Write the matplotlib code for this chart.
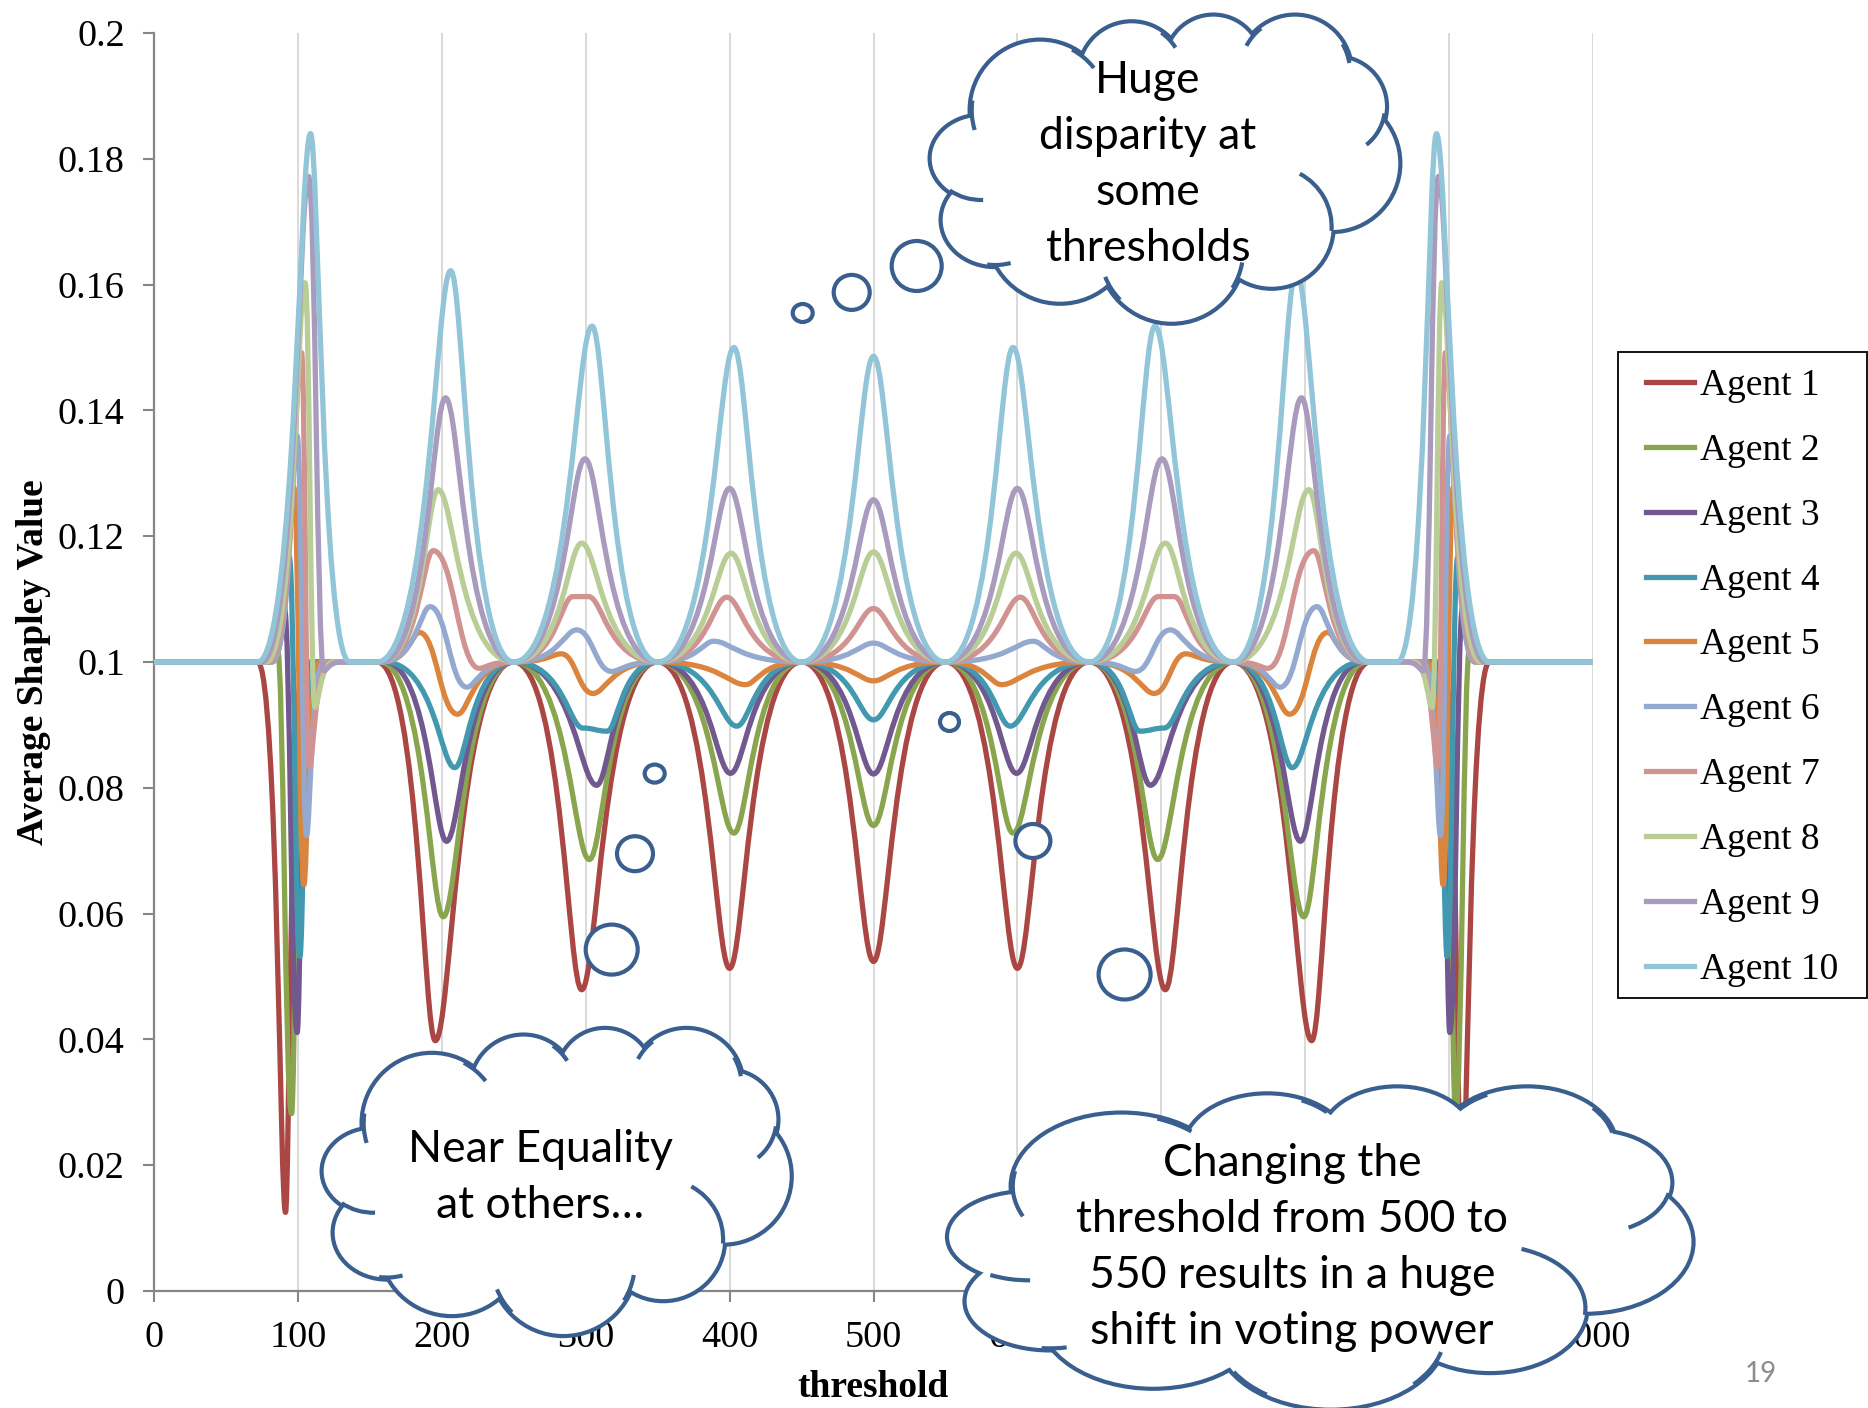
import matplotlib
matplotlib.use("Agg")
import matplotlib.pyplot as plt
from matplotlib.path import Path
from matplotlib.patches import PathPatch, Ellipse, Arc, Rectangle
from matplotlib.lines import Line2D
from matplotlib.ticker import FuncFormatter

plt.rcParams['font.family'] = ['Liberation Serif', 'DejaVu Serif']

BASE = 0.1

# key points (threshold, average Shapley value)
agent1_x = [0, 72, 91.4, 104, 155, 195.5, 250, 297.2, 350, 400, 450, 500, 550, 600, 650, 702.8, 750, 804.5, 845, 896, 908.6, 928, 1000]
agent1_y = [0.1, 0.1, 0.0125, 0.1, 0.1, 0.0398, 0.1, 0.0479, 0.1, 0.0513, 0.1, 0.0524, 0.1, 0.0513, 0.1, 0.0479, 0.1, 0.0398, 0.1, 0.1, 0.0125, 0.1, 0.1]
agent2_x = [0, 75, 85.6, 95.6, 107, 157, 201, 250, 302.5, 350, 403, 450, 500, 550, 597, 650, 697.5, 750, 799, 843, 893, 904.4, 914.4, 925, 1000]
agent2_y = [0.1, 0.1, 0.1025, 0.0282, 0.1, 0.1, 0.0595, 0.1, 0.0686, 0.1, 0.0728, 0.1, 0.0740, 0.1, 0.0728, 0.1, 0.0686, 0.1, 0.0595, 0.1, 0.1, 0.0282, 0.1025, 0.1, 0.1]
agent3_x = [0, 78, 90.5, 99.5, 110, 160, 203.3, 250, 307.6, 350, 400.6, 450, 500, 550, 599.4, 650, 692.4, 750, 796.7, 840, 890, 900.5, 909.5, 922, 1000]
agent3_y = [0.1, 0.1, 0.1087, 0.0411, 0.1, 0.1, 0.0715, 0.1, 0.0804, 0.1, 0.0823, 0.1, 0.0822, 0.1, 0.0823, 0.1, 0.0804, 0.1, 0.0715, 0.1, 0.1, 0.0411, 0.1087, 0.1, 0.1]
agent4_x = [0, 80, 94, 101.4, 112, 160, 209, 250, 298, 315, 350, 405, 450, 500, 550, 595, 650, 685, 702, 750, 791, 840, 888, 898.6, 906, 920, 1000]
agent4_y = [0.1, 0.1, 0.1167, 0.0532, 0.1, 0.1, 0.0832, 0.1, 0.0895, 0.0890, 0.1, 0.0898, 0.1, 0.0908, 0.1, 0.0898, 0.1, 0.0890, 0.0895, 0.1, 0.0832, 0.1, 0.1, 0.0532, 0.1167, 0.1, 0.1]
agent5_x = [0, 82, 97.2, 104.2, 115, 158, 184.4, 210.9, 250, 283, 305, 350, 411, 450, 500, 550, 589, 650, 695, 717, 750, 789.1, 815.6, 842, 885, 895.8, 902.8, 918, 1000]
agent5_y = [0.1, 0.1, 0.1277, 0.0646, 0.1, 0.1, 0.1047, 0.0917, 0.1, 0.1013, 0.0950, 0.1, 0.0964, 0.1, 0.0970, 0.1, 0.0964, 0.1, 0.0950, 0.1013, 0.1, 0.0917, 0.1047, 0.1, 0.1, 0.0646, 0.1277, 0.1, 0.1]
agent6_x = [0, 82, 99.5, 106, 118, 158, 191.8, 217.4, 250, 293.7, 318, 350, 389, 450, 500, 550, 611, 650, 682, 706.3, 750, 782.6, 808.2, 842, 882, 894, 900.5, 918, 1000]
agent6_y = [0.1, 0.1, 0.1359, 0.0724, 0.1, 0.1, 0.1088, 0.0960, 0.1, 0.1051, 0.0985, 0.1, 0.1033, 0.1, 0.1030, 0.1, 0.1033, 0.1, 0.0985, 0.1051, 0.1, 0.0960, 0.1088, 0.1, 0.1, 0.0724, 0.1359, 0.1, 0.1]
agent7_x = [0, 80, 102.5, 107.9, 122, 158, 194, 226, 250, 291, 302, 350, 398, 450, 500, 550, 602, 650, 698, 709, 750, 774, 806, 842, 878, 892.1, 897.5, 920, 1000]
agent7_y = [0.1, 0.1, 0.1492, 0.0833, 0.1, 0.1, 0.1177, 0.0990, 0.1, 0.1104, 0.1104, 0.1, 0.1103, 0.1, 0.1085, 0.1, 0.1103, 0.1, 0.1104, 0.1104, 0.1, 0.0990, 0.1177, 0.1, 0.1, 0.0833, 0.1492, 0.1, 0.1]
agent8_x = [0, 78, 105, 111.8, 125, 158, 197.5, 250, 297.2, 350, 401, 450, 500, 550, 599, 650, 702.8, 750, 802.5, 842, 875, 888.2, 895, 922, 1000]
agent8_y = [0.1, 0.1, 0.1603, 0.0928, 0.1, 0.1, 0.1274, 0.1, 0.1189, 0.1, 0.1173, 0.1, 0.1175, 0.1, 0.1173, 0.1, 0.1189, 0.1, 0.1274, 0.1, 0.1, 0.0928, 0.1603, 0.1, 0.1]
agent9_x = [0, 75, 107.4, 118, 130, 158, 202.6, 250, 299.5, 350, 400, 450, 500, 550, 600, 650, 700.5, 750, 797.4, 842, 870, 882, 892.6, 925, 1000]
agent9_y = [0.1, 0.1, 0.1772, 0.0986, 0.1, 0.1, 0.1420, 0.1, 0.1323, 0.1, 0.1276, 0.1, 0.1258, 0.1, 0.1276, 0.1, 0.1323, 0.1, 0.1420, 0.1, 0.1, 0.0986, 0.1772, 0.1, 0.1]
agent10_x = [0, 72, 108.8, 136, 155, 206.2, 250, 304.4, 350, 403, 450, 500, 550, 597, 650, 695.6, 750, 793.8, 845, 864, 891.2, 928, 1000]
agent10_y = [0.1, 0.1, 0.184, 0.1, 0.1, 0.1622, 0.1, 0.1534, 0.1, 0.150, 0.1, 0.1486, 0.1, 0.150, 0.1, 0.1534, 0.1, 0.1622, 0.1, 0.1, 0.184, 0.1, 0.1]

agent_x = [agent1_x, agent2_x, agent3_x, agent4_x, agent5_x, agent6_x, agent7_x, agent8_x, agent9_x, agent10_x]
agent_y = [agent1_y, agent2_y, agent3_y, agent4_y, agent5_y, agent6_y, agent7_y, agent8_y, agent9_y, agent10_y]
agent_names = ["Agent 1", "Agent 2", "Agent 3", "Agent 4", "Agent 5",
               "Agent 6", "Agent 7", "Agent 8", "Agent 9", "Agent 10"]
agent_colors = ['#AA4643', '#89A54E', '#71588F', '#4198AF', '#DB843D',
                '#93A9CF', '#D19392', '#B9CD96', '#A99BBD', '#92C5D8']

x_ticks = [0, 100, 200, 300, 400, 500, 600, 700, 800, 900, 1000]
y_ticks = [0, 0.02, 0.04, 0.06, 0.08, 0.1, 0.12, 0.14, 0.16, 0.18, 0.2]

# callout texts
cloud_texts = ["Huge\ndisparity at\nsome\nthresholds",
               "Near Equality\nat others…",
               "Changing the\nthreshold from 500 to\n550 results in a huge\nshift in voting power"]

EDGE = '#3A5F8E'
LW = 3.0


def smooth_path(xs, ys):
    # cubic bezier through the key points, flat tangent at each one
    verts = [(xs[0], ys[0])]
    codes = [Path.MOVETO]
    for i in range(1, len(xs)):
        x0, y0, x1, y1 = xs[i - 1], ys[i - 1], xs[i], ys[i]
        dx = x1 - x0
        a, b = 0.45, 0.45
        if y0 == BASE and y1 != BASE:
            a, b = 0.72, 0.2
        elif y1 == BASE and y0 != BASE:
            a, b = 0.2, 0.72
        verts += [(x0 + a * dx, y0), (x1 - b * dx, y1), (x1, y1)]
        codes += [Path.CURVE4] * 3
    return Path(verts, codes)


fig = plt.figure(figsize=(18.68, 14.08), dpi=100)
ax = fig.add_axes([154 / 1868, 1 - 1291 / 1408, (1593 - 154) / 1868, (1291 - 33) / 1408])

for xs, ys, col in zip(agent_x, agent_y, agent_colors):
    ax.add_patch(PathPatch(smooth_path(xs, ys), facecolor='none', edgecolor=col,
                           lw=3.8, capstyle='round', joinstyle='round', zorder=3))

ax.set_xlim(0, 1000)
ax.set_ylim(0, 0.2)
ax.set_xticks(x_ticks)
ax.set_yticks(y_ticks)
ax.yaxis.set_major_formatter(FuncFormatter(lambda v, p: f"{v:g}"))
for s in ['top', 'right']:
    ax.spines[s].set_visible(False)
for s in ['left', 'bottom']:
    ax.spines[s].set_color('#868686')
    ax.spines[s].set_linewidth(1.6)
ax.tick_params(direction='out', length=8, width=1.5, color='#868686', labelsize=27.5, pad=13)
ax.grid(axis='x', color='#D9D9D9', lw=1.4)
ax.set_axisbelow(True)
ax.set_xlabel("threshold", fontsize=27, fontweight='bold', labelpad=11)
ax.set_ylabel("Average Shapley Value", fontsize=27, fontweight='bold', labelpad=5)

handles = [Line2D([], [], color=c, lw=3.8) for c in agent_colors]
leg = ax.legend(handles, agent_names, loc='upper left',
                bbox_to_anchor=(1646 / 1868, 1 - 368.5 / 1408), bbox_transform=fig.transFigure,
                fontsize=27, frameon=False, borderpad=0, labelspacing=0.81,
                handlelength=1.28, handletextpad=0.15, borderaxespad=0)

# overlay in pixel coordinates for the legend box and the thought clouds
ov = fig.add_axes([0, 0, 1, 1], zorder=5)
ov.set_xlim(0, 1868)
ov.set_ylim(1408, 0)
ov.axis('off')
ov.patch.set_alpha(0)
ov.add_patch(Rectangle((1618, 351.5), 1866.5 - 1618, 998.3 - 351.5, facecolor='none',
                       edgecolor='black', lw=1.3, zorder=2))

# lobes of the cloud shape (centre u, v and radii, as fractions of the box)
LOBES = [(0.2333, 0.3088, 0.1458, 0.2221),
         (0.4289, 0.1950, 0.1102, 0.1679),
         (0.6031, 0.1571, 0.0996, 0.1517),
         (0.7774, 0.1842, 0.1174, 0.1788),
         (0.8663, 0.2979, 0.1031, 0.1571),
         (0.8556, 0.4821, 0.1422, 0.2167),
         (0.7276, 0.6880, 0.1280, 0.1950),
         (0.5142, 0.7638, 0.1529, 0.2329),
         (0.2760, 0.6988, 0.1529, 0.2329),
         (0.1373, 0.6663, 0.1117, 0.1463),
         (0.1088, 0.4659, 0.1067, 0.1354)]
HOOKS = [(0, 163, 188), (0, -62, -38), (1, -55, -32), (3, -152, -128), (3, -30, -9),
         (4, 8, 52), (6, -62, 4), (7, 10, 32), (7, 136, 158), (9, 70, 100), (10, 88, 135)]


def draw_cloud(x0, y0, w, h, z=10):
    for u, v, ru, rv in LOBES:
        ov.add_patch(Ellipse((x0 + u * w, y0 + v * h), 2 * ru * w, 2 * rv * h,
                             facecolor='white', edgecolor=EDGE, lw=2 * LW, zorder=z))
    for u, v, ru, rv in LOBES:
        ov.add_patch(Ellipse((x0 + u * w, y0 + v * h), 2 * ru * w, 2 * rv * h,
                             facecolor='white', edgecolor='none', zorder=z + 1))
    ov.add_patch(Ellipse((x0 + 0.5 * w, y0 + 0.47 * h), 0.64 * w, 0.62 * h,
                         facecolor='white', edgecolor='none', zorder=z + 1))
    for i, t1, t2 in HOOKS:
        u, v, ru, rv = LOBES[i]
        ov.add_patch(Arc((x0 + u * w, y0 + v * h), 2 * ru * w, 2 * rv * h,
                         theta1=t1, theta2=t2, color=EDGE, lw=LW, zorder=z + 2))


def bubble(x, y, rx, ry):
    ov.add_patch(Ellipse((x, y), 2 * rx, 2 * ry, facecolor='white', edgecolor=EDGE,
                         lw=LW, zorder=10))


draw_cloud(930.7, 15, 468.6, 307.7)
draw_cloud(322.7, 1028.3, 468, 306.7)
draw_cloud(947.5, 1086.7, 745.6, 322)

bubble(916.7, 266, 25, 25)
bubble(851.7, 292.4, 18, 17.5)
bubble(802.7, 313, 10, 9)
bubble(611.7, 949.6, 26, 25)
bubble(635, 853.7, 18, 17.5)
bubble(654.7, 773.6, 10, 9)
bubble(1124.6, 974.5, 26, 25)
bubble(1032.9, 841, 17.5, 17)
bubble(949.5, 722, 9.5, 9)

cloud_font = ['Lato', 'DejaVu Sans']
ov.text(1148, 164.5, cloud_texts[0], ha='center', va='center', fontsize=32,
        family=cloud_font, linespacing=1.46, zorder=20)
ov.text(540, 1177.5, cloud_texts[1], ha='center', va='center', fontsize=32,
        family=cloud_font, linespacing=1.46, zorder=20)
ov.text(1292, 1247.5, cloud_texts[2], ha='center', va='center', fontsize=32,
        family=cloud_font, linespacing=1.46, zorder=20)

ov.text(1761, 1374, "19", ha='center', va='center', fontsize=20,
        family=cloud_font, color='#8C8C8C', zorder=20)

fig.savefig("out.png", dpi=100)
